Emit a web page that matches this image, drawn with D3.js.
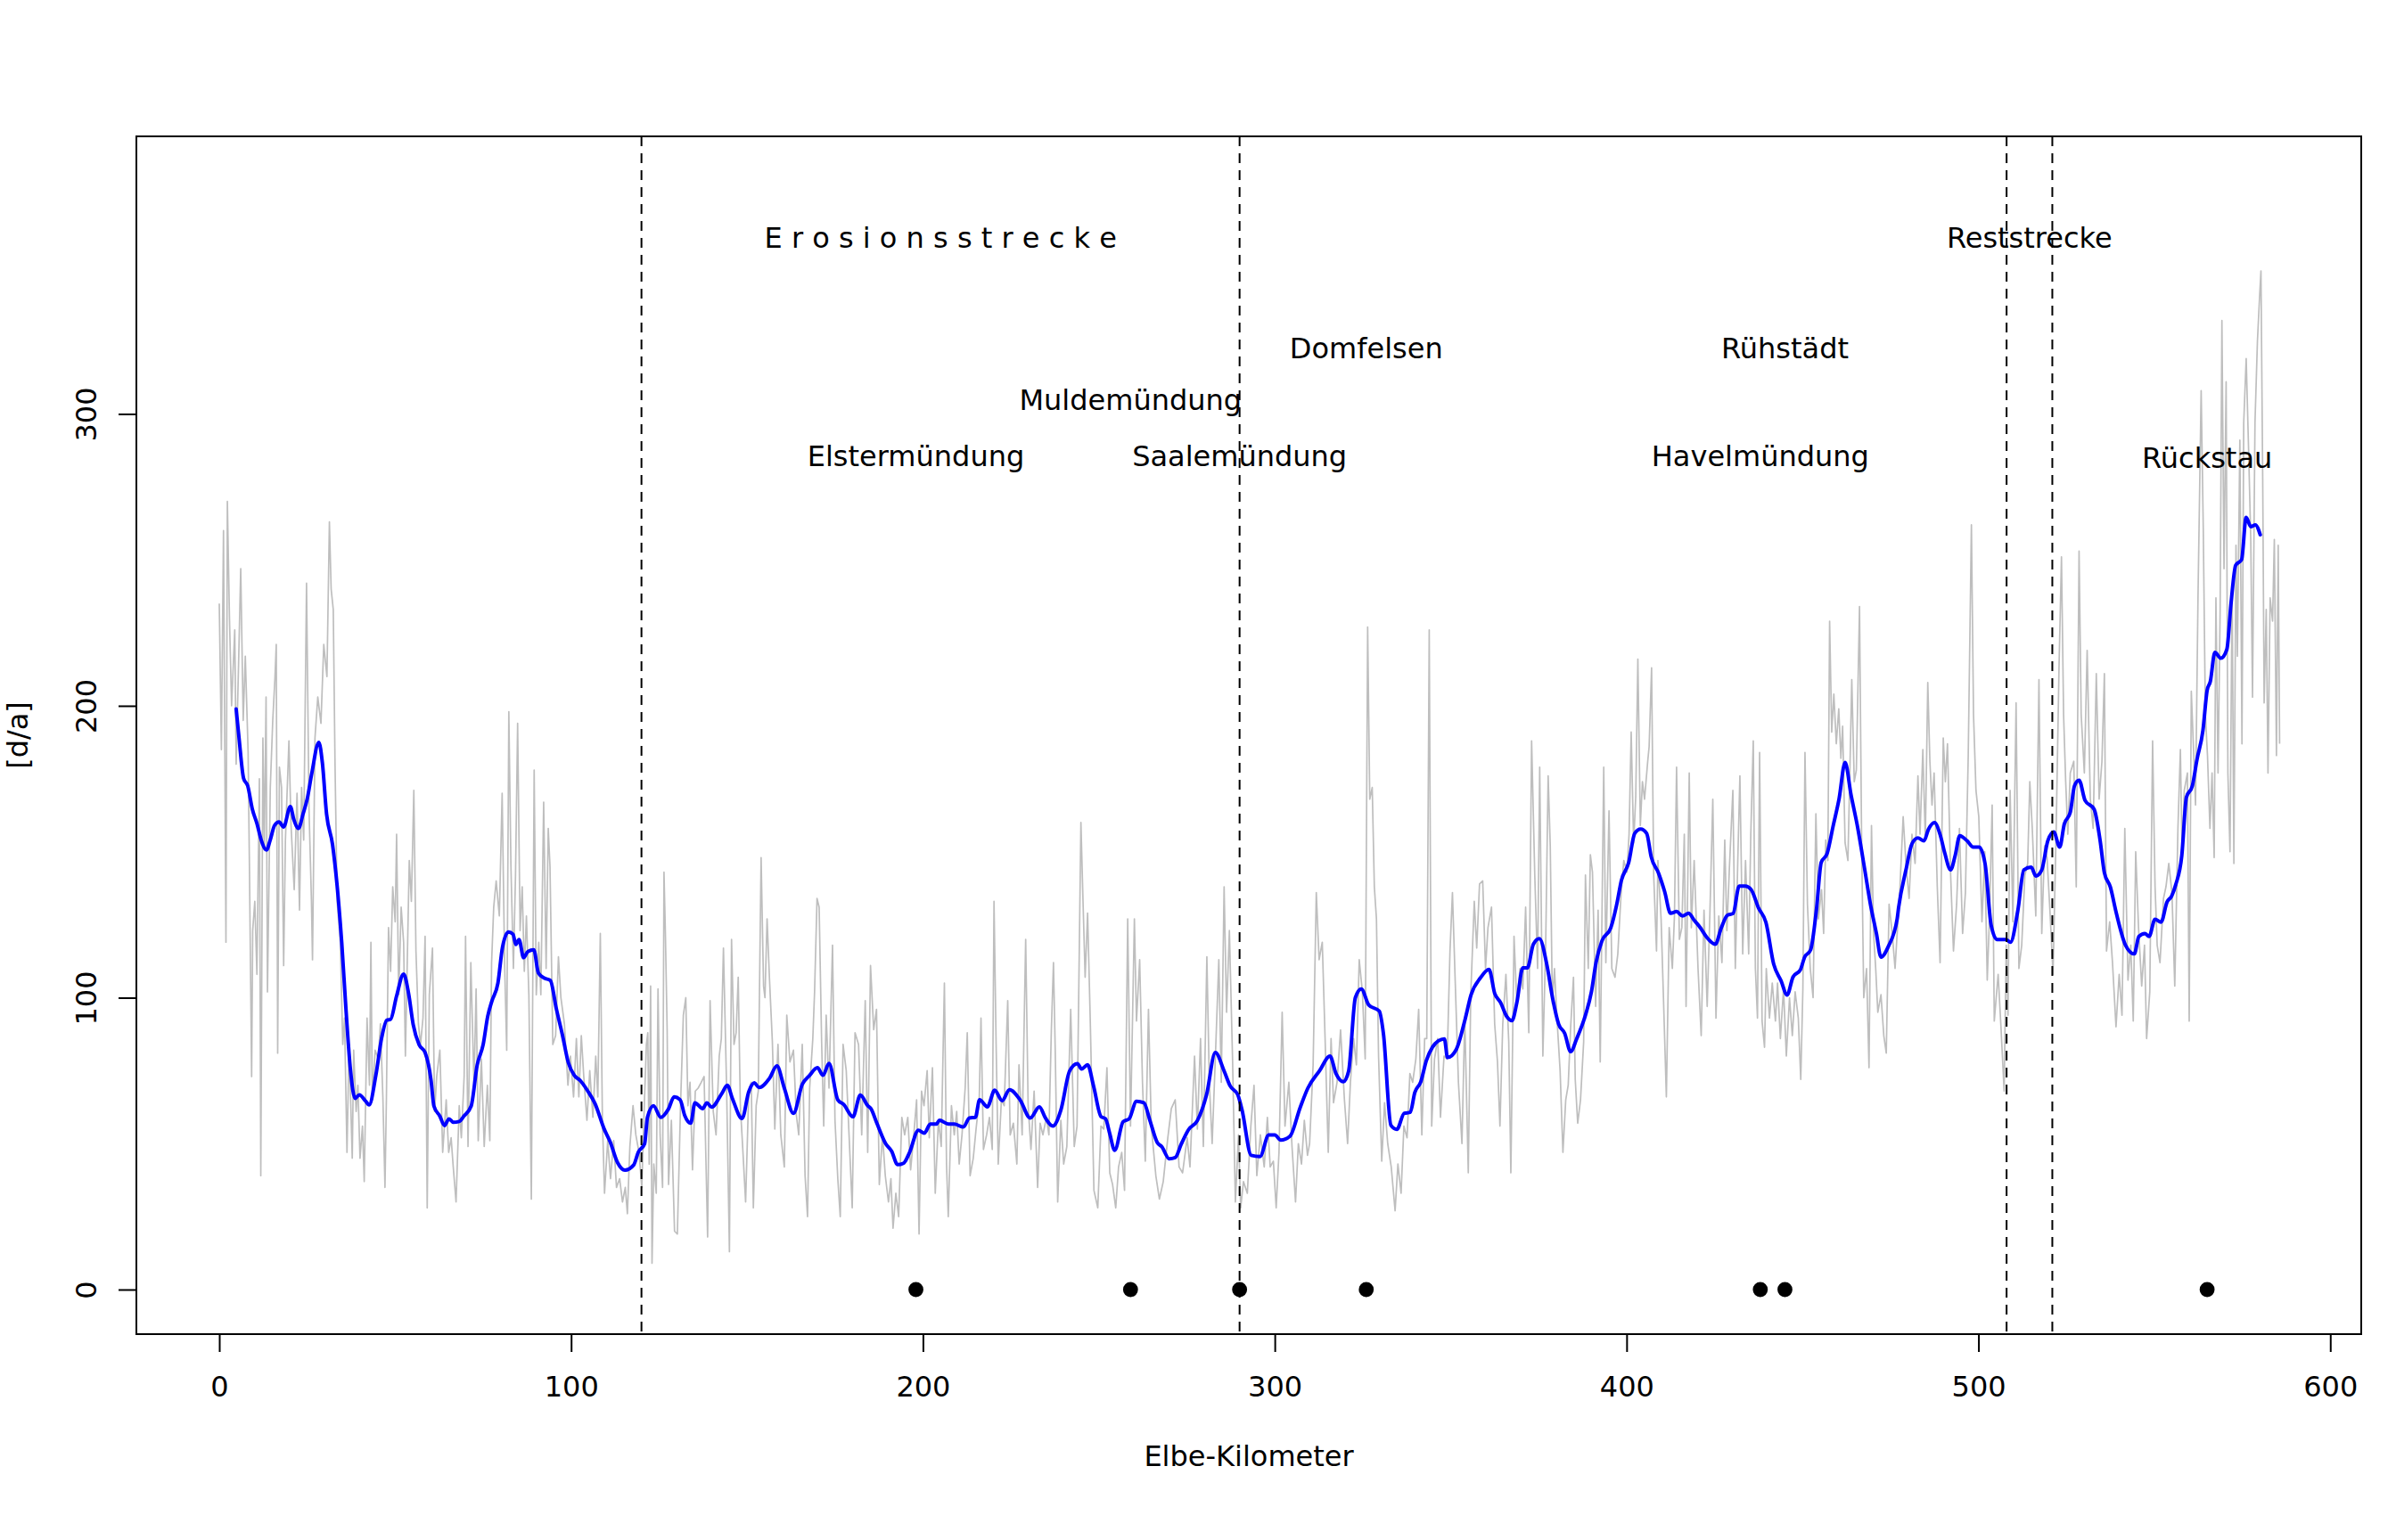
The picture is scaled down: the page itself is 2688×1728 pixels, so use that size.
<!DOCTYPE html>
<html>
<head>
<meta charset="utf-8">
<script src="https://cdn.jsdelivr.net/npm/d3@7"></script>
<style>
  html, body { margin: 0; padding: 0; background: #ffffff; }
  svg { display: block; }
  text { font-family: "DejaVu Sans", sans-serif; }
</style>
</head>
<body>
<script>
// ---------------- DATA ----------------
// raw series (grey): Elbe-Kilometer and value [d/a]
const grayKm = [
0,0.6,1.2,1.9,2.3,2.9,3.5,4.4,4.8,5.5,6.1,6.8,7.4,8.2,8.6,9.2,9.5,10.1,10.7,11.4,11.8,12.4,12.8,13.3,13.7,14.5,15.2,15.8,16.2,16.6,17.1,17.7,18.3,18.8,19.8,20.4,21.3,22.1,22.8,23.4,24,24.8,25.5,26.2,26.5,27.2,28,28.9,29.7,30.6,31.3,31.8,32.4,32.9,33.5,34.4,35.1,35.6,36.3,36.9,37.8,38.2,38.9,39.4,40,40.7,41.2,42,42.7,43.1,43.5,44.3,45.2,45.8,46.5,47.1,47.5,48.1,48.7,49.3,50,50.4,51,51.7,52.4,52.9,54,54.6,55.3,55.9,56.6,57.2,57.9,58.5,59.1,59.7,60.6,61.2,61.8,62.7,63.5,64.5,65.2,65.9,66.5,67.3,68.2,68.8,69.6,70,70.7,71.5,72.4,73,73.6,74.5,75.3,76.2,76.9,77.4,78,78.7,79.6,80.4,81.1,81.7,82.3,82.9,83.6,84.2,84.8,85.5,86.1,86.7,87.3,88,88.7,89.5,90.1,90.8,91.4,92.2,92.9,93.5,94,94.8,95.6,96.4,97.1,98.1,99.1,99.8,100.7,101.5,102.2,102.9,103.6,104.5,105.3,106.2,107,107.6,108.3,108.9,109.5,110.4,111.2,112.1,112.9,113.8,114.6,115.4,116,116.7,117.6,
118.4,119.3,120.1,120.8,121.4,121.8,122.2,122.6,123.0,123.5,124.2,124.7,125.3,126,126.4,126.8,127.3,127.7,128.5,129.4,130.2,131.1,131.9,132.6,133.2,133.8,134.5,135.3,136.1,137,137.8,138.8,139.5,140.4,141.2,142.1,142.7,143.3,144.2,145,145.6,146.3,146.9,147.5,148.1,148.8,149.6,150.5,151.2,151.8,152.6,153.2,154,154.7,155.1,155.7,156.4,157.2,157.9,158.8,159.6,160.6,161.3,162.2,163.2,164,164.7,165.7,166.5,167.2,167.8,168.7,169.2,169.9,170.5,171.2,171.8,172.5,173.3,174.3,175,175.8,176.5,177.3,178.2,179,179.9,180.7,181.7,182.6,183.6,184.3,185.1,186,186.8,187.6,188.5,189.3,190.2,190.9,191.5,192.3,193.1,194,194.8,195.7,196.5,197.4,198.2,198.9,199.6,200.3,201.2,201.8,202.7,203.5,204.4,205.2,206.1,206.7,207.2,208.1,208.9,209.6,210.3,211.1,212,212.6,213.4,214.3,215.1,216,216.5,217.2,218.1,218.9,219.7,220.2,220.8,221.4,222.3,223.1,224.1,224.8,225.7,226.7,227.3,228.2,229.2,229.9,230.7,231.6,232.6,233.3,234.1,235.1,235.8,236.5,237.1,237.6,238.3,239.2,
240,240.9,242,243,243.8,244.9,245.5,246.1,246.8,247.6,248.6,249.7,250.6,251.4,252.3,253.1,253.9,254.8,255.6,256.5,257.3,258.2,259,260.1,260.7,261.6,262.4,263.2,264.1,264.9,266.2,267.2,268.3,269.6,270.6,271.7,272.8,273.8,275.1,275.9,277.2,278,278.9,279.7,280.7,281.4,282.2,283.1,284.1,284.8,285.6,286.3,287.1,288,288.8,289.7,290.3,291.1,292.2,293.2,294.1,294.9,295.9,297,297.9,298.7,299.6,300.4,301.2,302.1,302.9,304,304.9,305.9,306.7,307.6,308.4,309.3,309.9,310.9,311.8,312.6,313.5,314.3,315.2,316,316.7,317.7,318.7,319.8,320.7,321.5,322.4,323.2,324,324.9,325.7,326.4,327,327.7,328.3,328.9,329.5,330.4,331.2,332.1,333.1,334.2,335,335.9,336.7,337.6,338.4,339.2,340.1,340.9,341.8,342.6,343.2,343.9,344.6,345.4,346.3,347.1,348.1,349,349.8,350.5,351.3,352.2,353.2,354,355,355.7,356.7,357.4,358.2,
359.1,359.9,360.6,361.6,362.5,363.3,364,364.8,365.7,366.5,367.1,368,368.8,369.7,370.5,371.3,372.2,373,373.9,374.7,375.3,376.2,377,377.7,378.3,378.9,379.5,380.2,381.1,381.9,382.7,383.4,384.1,384.9,385.4,386.1,386.9,387.8,388.3,389.1,389.7,390.3,391.2,391.9,392.5,393.5,394.1,395,395.8,396.7,397.5,398.4,399.2,400.1,400.7,401.3,402,402.6,403.2,403.9,404.5,405.1,406,406.4,407.1,407.7,408.5,408.9,409.8,410.4,411.3,412.1,413,413.6,414.2,415,415.7,416.4,416.9,417.8,418.4,419.2,420.3,421.2,422,422.9,423.7,424.5,425.4,426.2,427.1,427.9,428.5,429.2,430.2,430.9,431.6,432.2,433,433.8,434.7,435.3,436,436.6,437.2,437.8,438.5,439.2,439.7,440.6,441.4,442.3,442.9,443.7,444.6,445.4,446.3,447.1,447.9,448.8,449.5,450.1,450.7,451.4,452.2,453,453.8,454.5,455.4,456,456.6,457.2,457.7,458.3,458.9,459.6,460.3,460.9,461.4,462.1,462.9,463.4,464,464.7,465.3,466.2,466.8,467.4,468.2,468.9,469.6,470.2,470.8,471.4,472.3,473.1,473.8,474.6,475.5,476.3,
477.7,478.6,479.4,480.3,481.1,482,482.8,483.4,484.2,484.9,485.6,486.2,486.8,487.4,488.3,489.1,490,490.6,491.2,492.1,492.9,493.8,494.6,495.5,496.3,497.1,498,498.6,499.3,500.1,501,501.8,502.5,503.1,503.9,504.5,505.6,506.4,507.3,507.9,508.4,509,509.8,510.7,511.5,512.3,513.2,514,514.6,515.3,516.3,517.2,518,518.8,519.5,520.4,521.2,522.1,522.9,523.6,524.2,524.8,525.4,526.1,527.1,527.8,528.6,529.2,530.1,530.9,531.8,532.6,533.5,534.3,535.1,535.8,536.4,537.3,538.1,539.1,540,540.8,541.6,542.5,543.3,544,544.7,545.5,546.4,547.2,547.8,548.7,549.5,550.2,550.8,551.6,552.6,553.3,554.1,555,555.8,556.7,557.4,557.9,558.5,559.4,559.9,560.5,561.2,561.7,562.4,563.3,563.9,564.5,565.1,565.8,566.4,567,567.5,568.1,568.7,569.2,569.8,570.4,570.9,571.5,572.1,572.6,573.2,573.6,574.3,574.9,575.4,576.1,576.8,577.4,577.9,578.6,579.3,579.9,580.3,580.8,581.2,581.8,582.3,582.9,583.6,584.1,584.7,585.2,585.6
];
const grayVal = [
235,185,260,119,270,230,200,226,180,215,247,195,217,184,142,73,123,133,108,175,39,189,151,203,102,172,195,209,221,81,179,172,111,154,188,159,137,170,130,172,154,242,165,133,113,189,203,194,221,210,263,240,233,180,133,119,84,93,47,84,45,82,61,70,45,56,37,93,70,119,65,82,79,91,66,35,65,124,109,138,126,156,101,131,119,80,147,133,171,116,91,84,93,121,28,101,117,61,73,82,47,65,47,52,42,30,63,52,73,121,49,112,70,103,51,79,49,70,51,112,131,140,128,170,112,82,198,145,110,142,194,123,138,109,128,101,31,178,101,119,101,167,110,158,145,84,87,114,100,91,70,80,66,86,66,87,73,58,75,59,80,66,122,58,33,51,38,51,35,38,30,35,26,49,63,
53,47,35,63,84,88,43,104,9,43,33,103,53,35,143,122,89,36,58,20,19,63,94,100,63,71,41,68,69,71,73,18,99,61,53,80,86,117,69,13,120,84,88,107,63,48,30,68,71,28,63,68,148,104,100,127,106,85,55,84,53,42,94,78,82,60,53,84,39,25,69,86,102,134,131,85,56,94,69,118,58,38,25,84,75,53,28,88,84,53,99,47,111,89,96,36,53,39,30,38,21,33,25,59,53,59,41,53,65,19,68,63,75,52,76,33,58,49,105,43,25,63,53,61,43,53,69,88,39,45,55,65,93,48,53,59,48,133,84,43,65,63,99,53,57,43,77,53,120,63,48,68,35,57,53,59,53,89,112,82,30,58,
43,49,96,49,56,160,133,107,129,90,34,28,56,55,76,40,36,28,42,47,34,127,56,127,92,113,71,44,96,56,39,31,37,52,62,65,42,40,52,42,80,55,86,49,114,71,50,79,113,71,138,95,123,79,30,53,28,37,33,56,70,39,53,42,59,42,44,28,47,95,56,71,49,30,50,43,58,46,50,77,136,113,119,86,47,86,64,71,89,65,50,71,86,77,113,102,79,227,168,172,138,127,80,44,64,50,42,27,43,33,56,52,74,71,79,96,53,86,86,226,56,79,86,59,80,79,116,136,105,71,50,93,40,101,133,117,139,
140,110,124,131,91,78,56,91,108,85,40,121,98,110,103,131,88,188,142,110,179,80,118,176,152,98,110,93,75,47,65,70,90,107,72,57,65,85,142,110,149,143,97,130,78,179,112,164,110,107,115,135,147,143,156,191,153,169,216,159,174,168,181,186,213,142,116,147,127,103,66,124,110,128,179,120,124,156,97,177,124,147,110,87,130,97,130,168,93,128,112,154,123,144,171,110,147,176,115,147,115,156,188,110,93,184,92,83,110,93,105,92,105,86,103,80,100,87,102,93,72,103,184,132,110,100,163,127,137,122,154,147,229,191,204,187,199,182,193,153,147,174,209,174,178,234,153,100,110,76,159,122,110,95,101,87,81,132,122,110,
138,162,146,134,156,146,176,156,185,154,208,181,166,177,138,112,189,174,187,142,116,132,158,122,136,183,262,197,171,162,126,150,106,126,166,92,108,90,68,118,94,171,126,201,110,118,142,146,174,158,128,209,122,152,148,128,108,158,213,251,197,174,156,177,181,138,253,197,177,219,168,158,211,168,181,211,116,126,112,90,108,94,158,106,118,92,150,124,104,118,86,102,188,138,118,112,134,138,146,136,104,158,185,148,171,177,92,205,183,166,237,308,261,197,183,158,177,148,237,177,233,332,247,311,177,150,241,146,255,217,291,187,297,319,287,257,203,297,325,340,349,277,201,233,177,237,229,257,183,255,187
];

// smoothed series (blue)
const blueKm = [
4.8,5.6,6.9,8.1,9.4,10.7,11.9,13.4,14.5,15.7,17,18.3,20.2,21.2,22.5,23.8,25,26.3,28.3,29.3,30.5,32.2,33.5,34.8,36,37.3,38.6,39.8,41.5,42.6,44.5,46.2,47.6,48.7,50.4,52.4,53.8,55.1,56.8,58.5,60.2,61,62.7,64,65.3,66.5,68.2,69.5,71.6,73.3,75,76.3,77.5,79.2,80.5,82.2,83.5,84.3,85.2,86.5,87.7,89.4,90.7,92.4,94.1,95.8,97.5,99.2,100.9,102.6,104.7,106.8,109.4,111.1,113.2,115.3,117.8,119.1,120.9,
121.7,123.4,125.5,127.6,129.3,131,132.3,134,135.2,137.4,138.6,139.9,142.9,144.4,145.8,148.6,150.5,152.1,153.4,156.4,158.5,160.6,163.2,165.7,167.8,170,171.6,173.3,175.8,177.5,180.1,182.2,184.3,185.2,186.9,189.4,191.1,192.8,194.5,196.2,198.7,200.4,202.1,203.8,204.7,207.2,208.9,211.5,213.2,214.9,216.1,218.3,220.4,222.5,224.6,227.6,230.5,233.1,234.8,236.9,
239.2,241.7,243.9,245.1,246.8,248.5,250.6,251.9,253.1,254.5,256.9,258.6,260.7,262.8,264.5,266.6,267.9,270,271.7,273.4,275.5,278,280.6,283.1,285.6,287.3,289.5,290.7,293.3,295.8,298.3,300,301.7,304.3,307.2,309.4,312.7,315.7,317.4,319.5,321,322.9,324.6,326.7,329.7,330.9,333,334.7,336.8,338.5,339.8,341.5,343.1,344.8,346.5,348.2,349.1,351.6,354.1,355.8,358.4,360.9,362.5,
364.2,365.9,367.4,368.8,370.5,371.8,373.5,375.2,377.3,379,380.7,382.4,384.1,385.8,388.3,390,391.3,393,395.5,397.2,398.5,400.6,402.3,404,405.7,407,409.1,410.8,412.5,414.2,415.9,417.6,419.3,421,422.7,425.2,426.9,428.6,430.3,432,433.7,435.4,437.5,439.6,441.8,443.9,445.6,447.3,449.4,450.6,452.3,454,455.3,457,458.7,460.4,462.1,463.8,465.5,467.6,469.3,471,472.3,474.4,476.9,
477.3,479.4,481.1,482.8,484.5,485.8,487.5,489.2,490.4,492.1,493.4,494.7,496.8,498.5,500.2,501.9,503.6,505.3,507.8,509.1,511.2,512.9,515,516.3,518,519.7,521.4,523.1,524.4,526.1,527.3,528.6,530.3,532.9,534.6,535.8,537.5,539.2,541.8,544.3,545.6,547.3,548.5,550.2,551.9,553.6,554.9,556.1,557.8,559.1,560.8,562.1,563.8,565,565.9,567.2,568.9,570.6,571.8,573.1,574.8,576.1,577.4,578.7,580.1
];
const blueVal = [
198.9,189.2,175.2,172.5,164.6,159.7,154.1,150.6,154.1,159,160.2,158.5,165.5,161,158,162.9,168.1,176.9,187.5,180.5,162.9,152.4,138.3,119,96.2,75.1,65.5,66.7,64.7,63.3,73.4,86.5,92.3,92.6,100.6,108.1,101.5,90.9,83.9,81.2,71.6,62.9,59.4,56.2,58.5,57.3,57.6,59.4,62.9,76.9,83.9,93.6,98.9,105,117.3,122.5,121.7,118.2,119.9,113.7,115.8,116.4,108.5,106.7,105.9,96.2,87.4,77.8,73.4,71.6,68.1,63.7,55,50.6,43.5,40.9,42.7,47.1,50,
59,63,59,61.7,66,65,59.6,57,64,62,64,62.5,67.3,70,65.6,58.6,67.8,70.8,69.2,72.4,76.6,69,60.4,70.3,73.4,76,73.4,77.5,65,63.4,59.2,66.6,63,62,57,50,47.4,42.8,43.3,47,54.6,53.6,56.7,56.7,58,56.7,56.7,55.7,58.8,59,65,62.6,68.3,64.7,68.5,65,58.8,62.6,58.8,56,
61.5,74.9,77.4,75.6,77,69.7,59.3,58.5,53.4,47.7,57.5,58.5,64.5,64,58,50.4,48.9,44.8,45.2,49.8,54.8,57.9,66.7,81.2,74.9,69.8,66.7,61.5,46,45.6,53,53,51.2,52.5,62.3,69,74.9,80,74,71.2,74.9,100,103,97.5,95.4,87.5,56.3,54.9,60.4,60.7,67.5,71.2,78.5,83,85.2,85.9,79.5,82.3,92.6,101,106.7,109.7,101.5,
98.3,93.6,92.1,98.3,110.2,110.2,118.3,120.2,111.5,99.6,90.9,87.8,81.5,85.9,94,102,112,119.5,123.9,132,140.1,146.3,156.3,157.8,156.3,148.2,142.6,136.4,128.9,129.5,128,128.9,126.4,123.9,120.8,118.3,123.9,128.2,128.9,138.2,138.2,137,130.7,125.8,111.5,105.8,100.9,107.1,109.6,113.9,116.4,130.7,146.3,149.4,158.8,168.2,180.6,169.4,159.4,144.5,132,122,113.9,117.6,127,
130.8,143.8,152.7,154.7,153.7,157.7,160,155.5,149.7,143.8,148.8,155.5,153.7,151.6,151.6,145.8,124.9,119.9,119.9,119,129.9,143.8,144.7,141.7,143.8,153.7,156.8,151.6,159.5,163.5,172.6,174.5,167.6,164.5,153.7,142.8,137.9,128.9,118,115,121,122,121,126.9,125.9,132.8,134.8,138.8,148.7,168.6,172.6,181.5,191.5,205.3,208.3,218.3,216.3,219.3,235.2,248.1,250.1,264.6,261.4,262,258.6
];

// markers on the zero line (river mouths / sites)
const pointKm = [198, 259, 290, 326, 438, 445, 565];
const pointVal = [0, 0, 0, 0, 0, 0, 0];

// vertical dashed section borders
const borderKm = [120, 290, 508, 521];

// annotations
const labelText = ["E r o s i o n s s t r e c k e", "Reststrecke", "Domfelsen", "Rühstädt",
                   "Muldemündung", "Elstermündung", "Saalemündung", "Havelmündung", "Rückstau"];
const labelKm = [205, 514.5, 326, 445, 259, 198, 290, 438, 565];
const labelVal = [360.5, 360.5, 322.5, 322.5, 304.8, 285.8, 285.8, 285.8, 285];

// axes
const xTicks = [0, 100, 200, 300, 400, 500, 600];
const yTicks = [0, 100, 200, 300];
const xTitle = "Elbe-Kilometer";
const yTitle = "[d/a]";

// ---------------- LAYOUT ----------------
const W = 2688, H = 1728;
const box = { left: 153, right: 2649, top: 153, bottom: 1497 };
const FS = 32;

const x = d3.scaleLinear().domain([-23.56, 608.8]).range([box.left, box.right]);
const y = d3.scaleLinear().domain([-15.27, 395.1]).range([box.bottom, box.top]);

const svg = d3.select("body").append("svg")
  .attr("width", W).attr("height", H)
  .attr("viewBox", `0 0 ${W} ${H}`);
svg.append("rect").attr("width", W).attr("height", H).attr("fill", "#ffffff");

// grey raw line
const grayData = grayKm.map((k, i) => [k, grayVal[i]]);
svg.append("path")
  .datum(grayData)
  .attr("fill", "none")
  .attr("stroke", "#bebebe")
  .attr("stroke-width", 1.7)
  .attr("stroke-linejoin", "round")
  .attr("d", d3.line().x(d => x(d[0])).y(d => y(d[1])));

// blue smoothed line
const blueData = blueKm.map((k, i) => [k, blueVal[i]]);
svg.append("path")
  .datum(blueData)
  .attr("fill", "none")
  .attr("stroke", "#0000ff")
  .attr("stroke-width", 4)
  .attr("stroke-linejoin", "round")
  .attr("stroke-linecap", "round")
  .attr("d", d3.line().curve(d3.curveMonotoneX).x(d => x(d[0])).y(d => y(d[1])));

// dashed borders
svg.append("g").selectAll("line").data(borderKm).join("line")
  .attr("x1", d => x(d)).attr("x2", d => x(d))
  .attr("y1", box.top).attr("y2", box.bottom)
  .attr("stroke", "#000000")
  .attr("stroke-width", 2)
  .attr("stroke-dasharray", "11,8");

// points
svg.append("g").selectAll("circle").data(pointKm).join("circle")
  .attr("cx", d => x(d)).attr("cy", (d, i) => y(pointVal[i]))
  .attr("r", 8.4)
  .attr("fill", "#000000");

// labels (vertically centred on cap height)
svg.append("g").selectAll("text").data(labelText).join("text")
  .attr("x", (d, i) => x(labelKm[i]))
  .attr("y", (d, i) => y(labelVal[i]) + FS * 0.365)
  .attr("text-anchor", "middle")
  .attr("font-size", FS)
  .attr("fill", "#000000")
  .text(d => d);

// box
svg.append("rect")
  .attr("x", box.left).attr("y", box.top)
  .attr("width", box.right - box.left).attr("height", box.bottom - box.top)
  .attr("fill", "none").attr("stroke", "#000000").attr("stroke-width", 2);

// x axis
const gx = svg.append("g")
  .attr("transform", `translate(0,${box.bottom})`)
  .call(d3.axisBottom(x).tickValues(xTicks).tickSize(20).tickFormat(d3.format("d")));
gx.select(".domain").remove();
gx.selectAll(".tick line").attr("stroke", "#000").attr("stroke-width", 2);
gx.selectAll(".tick text")
  .attr("y", 70).attr("dy", null)
  .attr("font-size", FS).attr("font-family", "DejaVu Sans").attr("fill", "#000");
svg.append("line")
  .attr("x1", x(xTicks[0])).attr("x2", x(xTicks[xTicks.length - 1]))
  .attr("y1", box.bottom).attr("y2", box.bottom)
  .attr("stroke", "#000").attr("stroke-width", 2);

// y axis
const gy = svg.append("g")
  .attr("transform", `translate(${box.left},0)`)
  .call(d3.axisLeft(y).tickValues(yTicks).tickSize(20).tickFormat(d3.format("d")));
gy.select(".domain").remove();
gy.selectAll(".tick line").attr("stroke", "#000").attr("stroke-width", 2);
gy.selectAll(".tick text")
  .attr("x", null).attr("dy", null)
  .attr("transform", "translate(-45,0) rotate(-90)")
  .attr("text-anchor", "middle")
  .attr("font-size", FS).attr("font-family", "DejaVu Sans").attr("fill", "#000");
svg.append("line")
  .attr("x1", box.left).attr("x2", box.left)
  .attr("y1", y(yTicks[0])).attr("y2", y(yTicks[yTicks.length - 1]))
  .attr("stroke", "#000").attr("stroke-width", 2);

// axis titles
svg.append("text")
  .attr("x", (box.left + box.right) / 2).attr("y", 1645)
  .attr("text-anchor", "middle").attr("font-size", FS).attr("fill", "#000")
  .text(xTitle);
svg.append("text")
  .attr("transform", `translate(31,${(box.top + box.bottom) / 2}) rotate(-90)`)
  .attr("text-anchor", "middle").attr("font-size", FS).attr("fill", "#000")
  .text(yTitle);
</script>
</body>
</html>
